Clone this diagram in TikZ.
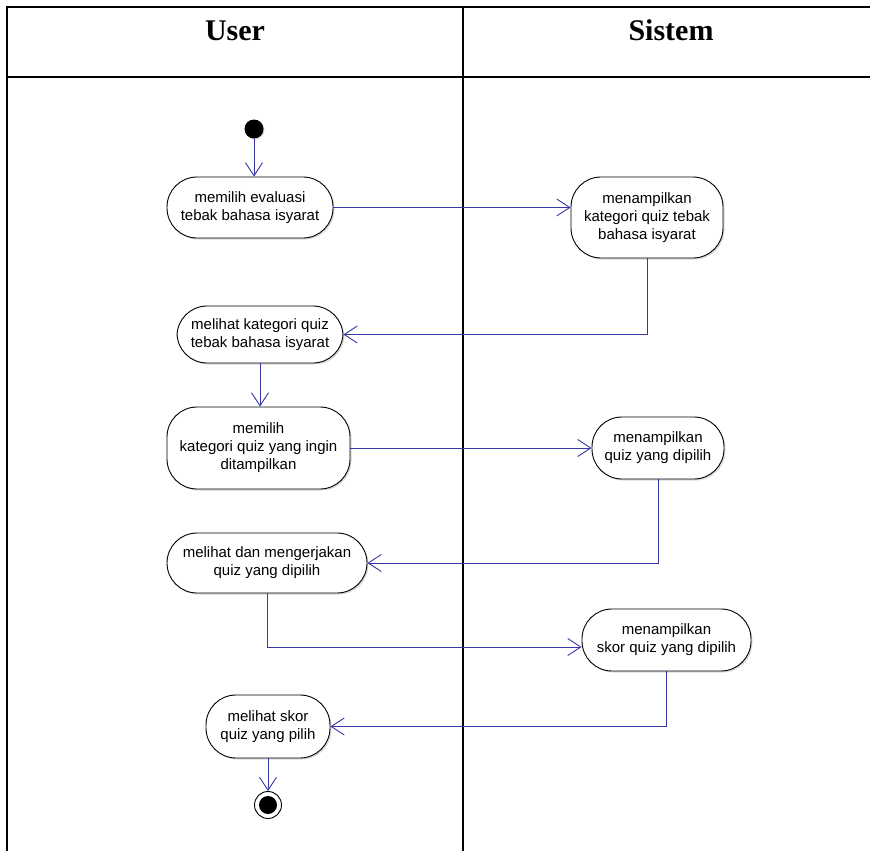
\documentclass[tikz,border=0pt]{standalone}
\usepackage{fontspec}
\setmainfont{Liberation Serif}
\newfontfamily\actfont{Liberation Sans}
\usetikzlibrary{arrows.meta,shadows}
\definecolor{flow}{RGB}{55,55,165}
\tikzset{
  lane/.style={line width=2pt,black},
  act/.style={draw=black,line width=0.9pt,fill=white,rounded corners=30pt,
    align=center,font=\actfont\fontsize{15pt}{18pt}\selectfont,inner sep=0pt,
    drop shadow={shadow xshift=1.5pt,shadow yshift=-1.5pt,opacity=0.3,fill=gray}},
  flowline/.style={draw=flow,line width=0.9pt,-{Straight Barb[length=13pt,width=17pt,line width=0.9pt]}},
  title/.style={font=\bfseries\fontsize{30pt}{34pt}\selectfont,anchor=base}
}
\begin{document}
\begin{tikzpicture}[x=1pt,y=-1pt]
\useasboundingbox (0,0) rectangle (870,851);
% swimlane table
\coordinate (tl) at (7,7);
\coordinate (tr) at (870,7);
\coordinate (hl) at (7,77);
\coordinate (hr) at (870,77);
\coordinate (ml) at (463,7);
\coordinate (mb) at (463,851);
\coordinate (lb) at (7,851);
\draw[lane] (tr) -- (tl) -- (lb);
\draw[lane] (hl) -- (hr);
\draw[lane] (ml) -- (mb);
\node[title] (user) at (235,41) {User};
\node[title] (sistem) at (671,41) {Sistem};

% start and end
\node[circle,fill=black,minimum size=19pt,inner sep=0pt,
  drop shadow={shadow xshift=1pt,shadow yshift=-1pt,opacity=0.3,fill=gray}] (start) at (254,129) {};
\node[circle,draw=black,line width=0.9pt,fill=white,minimum size=27pt,inner sep=0pt] (end) at (268,805) {};
\fill[black] (end.center) circle (9pt);

% activities
\node[act,minimum width=166pt,minimum height=61pt] (n1) at (250,207.5) {memilih evaluasi\\tebak bahasa isyarat};
\node[act,minimum width=152pt,minimum height=81pt] (n2) at (647,217.5) {menampilkan\\kategori quiz tebak\\bahasa isyarat};
\node[act,minimum width=166pt,minimum height=57pt] (n3) at (260,334.5) {melihat kategori quiz\\tebak bahasa isyarat};
\node[act,minimum width=183pt,minimum height=82pt] (n4) at (258.5,448) {memilih\\kategori quiz yang ingin\\ditampilkan};
\node[act,minimum width=132pt,minimum height=62pt] (n5) at (658,448) {menampilkan\\quiz yang dipilih};
\node[act,minimum width=200pt,minimum height=60pt] (n6) at (267,563) {melihat dan mengerjakan\\quiz yang dipilih};
\node[act,minimum width=169pt,minimum height=62pt] (n7) at (666.5,640) {menampilkan\\skor quiz yang dipilih};
\node[act,minimum width=124pt,minimum height=63pt] (n8) at (268,726.5) {melihat skor\\quiz yang pilih};

% control flow
\draw[flowline] (start.south) -- (start.south |- n1.north);
\draw[flowline] (n1.east) -- (n1.east -| n2.west);
\draw[flowline] (n2.south) |- (n3.east);
\draw[flowline] (n3.south) -- (n3.south |- n4.north);
\draw[flowline] (n4.east) -- (n4.east -| n5.west);
\draw[flowline] (n5.south) |- (n6.east);
\draw[flowline] (n6.south) |- ([yshift=-7pt]n7.west);
\draw[flowline] (n7.south) |- (n8.east);
\draw[flowline] (n8.south) -- (end.north);
\end{tikzpicture}
\end{document}
